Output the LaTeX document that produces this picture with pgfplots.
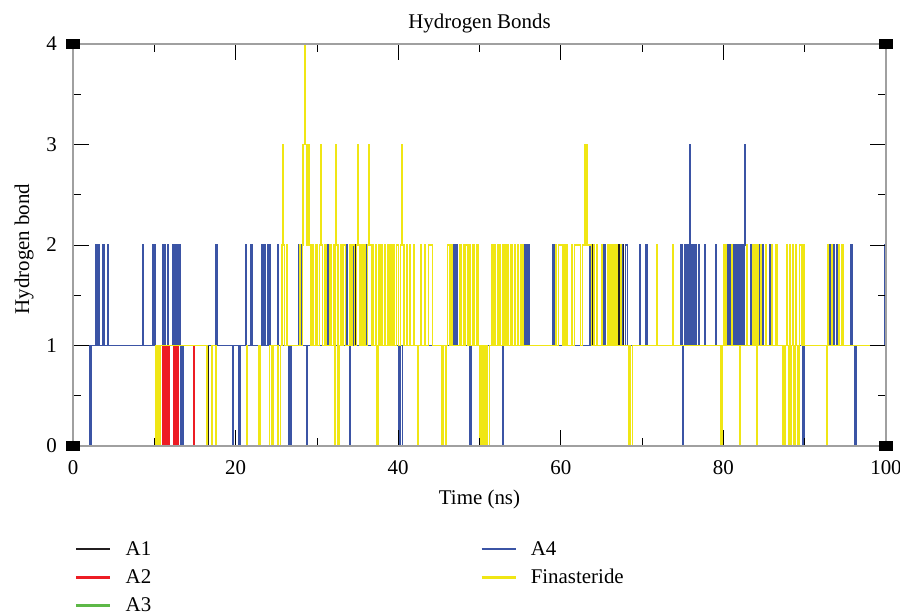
\documentclass[border=0pt]{standalone}
\usepackage{pgfplots}
\pgfplotsset{compat=1.18}
\usepackage{fontspec}
\setmainfont{Liberation Serif}
\definecolor{cA1}{RGB}{35,31,32}
\definecolor{cA2}{RGB}{237,28,36}
\definecolor{cA3}{RGB}{93,184,71}
\definecolor{cA4}{RGB}{59,84,165}
\definecolor{cFin}{RGB}{240,230,20}
\definecolor{frame}{RGB}{160,160,160}
\begin{document}
\begin{tikzpicture}
\useasboundingbox (-73bp,-170bp) rectangle (827bp,446bp);
\begin{axis}[
  at={(0,0)}, anchor=south west,
  scale only axis, width=813bp, height=402bp,
  xmin=0, xmax=100, ymin=0, ymax=4,
  xtick={0,20,...,100}, ytick={0,1,2,3,4},
  minor x tick num=1, minor y tick num=1,
  tick align=inside, xtick pos=both, ytick pos=both,
  major tick length=16bp, minor tick length=8bp,
  every tick/.style={black, line width=0.8bp},
  axis line style={draw=frame, line width=2bp},
  axis on top,
  font=\fontsize{21}{25}\selectfont,
  /pgf/number format/assume math mode=true,
  xticklabel style={anchor=center, yshift=-22bp, inner sep=0pt},
  yticklabel style={anchor=east, inner sep=0pt, xshift=-16bp},
  title={Hydrogen Bonds},
  title style={at={(axis description cs:0.5,1.0373)}, anchor=center, inner sep=0pt},
  xlabel={Time (ns)},
  xlabel style={at={(axis description cs:0.5,-0.132)}, anchor=center, inner sep=0pt},
  ylabel={Hydrogen bond},
  ylabel style={at={(axis description cs:-0.0600,0.49)}, anchor=center, inner sep=0pt},
  const plot,
  every axis plot/.append style={line width=1.3bp},
  legend image code/.code={\draw[#1, line width=2.5bp] (0bp,0bp) -- (34bp,0bp);},
  transpose legend, legend columns=3,
  legend cell align=left,
  legend style={at={(axis description cs:0.0025,-0.232)}, anchor=north west,
    draw=none, fill=none, inner sep=0pt, row sep=8.5bp,
    /tikz/every odd column/.append style={column sep=12bp},
    /tikz/every even column/.append style={column sep=327bp}},
  after end axis/.code={
    \fill[black] (rel axis cs:0,0) ++(-7bp,-5bp) rectangle ++(14bp,10bp);
    \fill[black] (rel axis cs:0,1) ++(-7bp,-5bp) rectangle ++(14bp,10bp);
    \fill[black] (rel axis cs:1,0) ++(-7bp,-5bp) rectangle ++(14bp,10bp);
    \fill[black] (rel axis cs:1,1) ++(-7bp,-5bp) rectangle ++(14bp,10bp);
  },
]
% A1
\addplot[cA1] coordinates {(0,1) (16.6,0) (16.7,1) (34.6,2) (34.7,1) (63.8,2) (63.9,1) (67.1,2) (67.2,1) (67.6,2) (67.7,1) (100,1)};
% A2
\addplot[cA2] coordinates {(0,1) (11.0,0) (11.1,1) (11.2,0) (11.3,1) (11.4,0) (11.5,1) (11.6,0) (11.7,1) (11.8,0) (11.9,1) (12.4,0) (12.5,1) (12.6,0) (12.7,1) (12.8,0) (12.9,1) (14.8,0) (14.88,1) (100,1)};
% A3 (hidden beneath)
\addplot[cA3] coordinates {(0,1) (100,1)};
% A4
\addplot[cA4] coordinates {(0,1) (2.1,0) (2.25,1)
 (2.8,2) (2.9,1) (3.0,2) (3.1,1) (3.2,2) (3.3,1) (3.7,2) (3.8,1) (4.3,2) (4.4,1)
 (8.6,2) (8.7,1) (9.8,2) (9.9,1) (10.0,2) (10.1,1)
 (11.0,2) (11.1,1) (11.3,2) (11.4,1) (11.6,2) (11.7,1)
 (12.3,2) (12.4,1) (12.5,2) (12.6,1) (12.7,2) (12.8,1) (12.9,2) (13.0,1) (13.1,2) (13.15,1)
 (13.25,0) (13.35,1) (13.5,0) (13.6,1)
 (17.5,2) (17.7,1) (19.6,0) (19.7,1) (20.4,0) (20.55,1)
 (21.2,2) (21.3,1) (21.8,2) (21.9,1) (22.0,2) (22.1,1)
 (23.2,2) (23.3,1) (23.5,2) (23.6,1) (23.9,2) (24.0,1) (24.2,2) (24.3,1)
 (25.2,2) (25.3,1) (26.5,0) (26.6,1) (26.8,0) (26.9,1)
 (27.7,2) (27.9,1) (28.1,2) (28.2,1) (28.7,0) (28.85,1)
 (31.0,2) (31.1,1) (31.3,2) (31.4,1)
 (33.6,2) (33.8,1) (34.0,0) (34.1,1) (34.5,2) (34.6,1) (35.9,2) (36.1,1)
 (40.0,0) (40.1,1) (40.3,0) (40.5,1)
 (46.8,2) (47.0,1) (47.1,2) (47.3,1)
 (48.8,0) (48.95,1) (52.8,0) (52.95,1)
 (55.6,2) (55.8,1) (55.9,2) (56.1,1) (59.0,2) (59.15,1) (63.5,2) (63.65,1)
 (65.3,2) (65.45,1) (66.9,2) (67.0,1) (67.5,2) (67.6,1) (68.0,2) (68.2,1)
 (69.7,2) (69.8,1) (70.4,2) (70.6,1)
 (74.8,2) (74.9,1) (75.0,0) (75.1,1) (75.2,2) (75.3,1) (75.4,2) (75.5,1) (75.6,2) (75.7,1)
 (75.8,3) (75.95,2) (76.0,1) (76.1,2) (76.2,1) (76.3,2) (76.4,1) (76.6,2) (76.7,1)
 (77.0,2) (77.1,1) (77.7,2) (77.8,1) (79.0,2) (79.1,1)
 (80.4,2) (80.5,1) (80.6,2) (80.7,1) (80.8,2) (80.9,1) (81.0,2) (81.1,1) (81.2,2) (81.3,1)
 (81.4,2) (81.5,1) (81.6,2) (81.7,1) (81.8,2) (81.9,1) (82.0,2) (82.1,1) (82.2,2) (82.3,1)
 (82.4,2) (82.5,1) (82.6,3) (82.7,2) (82.8,1)
 (83.3,2) (83.5,1) (84.5,2) (84.6,1) (84.8,2) (84.9,1) (85.7,2) (85.8,1)
 (89.75,0) (89.9,1) (93.1,2) (93.2,1) (93.5,2) (93.6,1) (93.9,2) (94.0,1)
 (95.6,2) (95.8,1) (96.2,0) (96.3,1) (99.85,2) (100,2)};
% Finasteride
\addplot[cFin] coordinates {(0,0)
 (10.2,1) (10.35,0) (10.5,1) (10.65,0) (10.8,1)
 (16.5,0) (17.1,1) (17.6,0) (21.4,1) (21.5,0) (22.8,1) (23.0,0) (24.2,1) (24.4,0) (24.6,1) (25.2,0) (25.5,1)
 (25.7,2) (25.75,3) (25.85,2) (26.0,1) (26.3,2) (26.4,1) (27.9,2) (28.0,1) (28.2,2) (28.3,3) (28.5,4) (28.6,3)
 (28.8,2) (28.9,3) (29.1,2) (29.2,1) (29.4,2) (29.6,1) (29.9,2) (30.0,1) (30.3,2) (30.4,3) (30.5,2) (30.7,1)
 (31.0,2) (31.2,1) (31.6,2) (31.8,1) (32.0,2) (32.2,0) (32.3,3) (32.4,2) (32.6,0) (32.7,1) (32.9,2) (33.1,1)
 (33.3,2) (33.5,1) (34.0,2) (34.2,1) (34.4,2) (34.6,1) (34.9,2) (35.0,3) (35.1,2) (35.3,1) (35.5,2) (35.6,1)
 (35.8,2) (35.9,1) (36.2,2) (36.4,3) (36.5,2) (36.7,1) (36.9,2) (37.0,1) (37.2,2) (37.3,1) (37.4,0) (37.5,1)
 (37.6,2) (37.7,1) (37.9,2) (38.0,1) (38.3,2) (38.4,1) (38.7,2) (38.8,1) (39.0,2) (39.1,1) (39.3,2) (39.5,1)
 (39.8,2) (40.0,1) (40.3,2) (40.4,3) (40.5,2) (40.7,1) (41.0,2) (41.1,1) (41.4,2) (41.5,1) (41.9,2) (42.0,1)
 (42.4,0) (42.5,1) (42.8,2) (42.9,1) (43.3,2) (43.4,1) (43.7,2) (44.2,1)
 (45.4,0) (45.5,1) (45.8,0) (45.9,1)
 (46.1,2) (46.3,1) (46.5,2) (46.6,1) (47.6,2) (47.8,1) (48.0,2) (48.1,1) (48.3,2) (48.5,1) (48.7,2) (48.9,1)
 (49.2,2) (49.4,1) (49.6,2) (49.8,1) (50.0,0) (50.1,1) (50.2,0) (50.3,1) (50.4,0) (50.5,1) (50.6,0) (50.7,1)
 (50.8,0) (50.9,1) (51.0,0) (51.2,1)
 (51.5,2) (51.6,1) (51.8,2) (52.0,1) (52.2,2) (52.3,1) (52.5,2) (52.6,1) (52.9,2) (53.0,1) (53.2,2) (53.3,1)
 (53.5,2) (53.6,1) (53.8,2) (53.9,1) (54.0,2) (54.1,1) (54.3,2) (54.4,1) (54.7,2) (54.8,1) (55.0,2) (55.1,1)
 (55.3,2) (55.4,1)
 (59.4,2) (59.5,1) (59.7,2) (60.2,1) (60.4,2) (60.5,1) (60.7,2) (60.8,1) (61.3,2) (61.4,1) (61.7,2) (62.4,1)
 (62.7,2) (62.9,3) (63.0,2) (63.2,3) (63.25,2) (63.8,1) (64.0,2) (64.1,1) (64.4,2) (64.5,1) (65.0,2) (65.1,1)
 (65.8,2) (65.9,1) (66.0,2) (66.1,1) (66.2,2) (66.3,1) (66.4,2) (66.5,1) (66.6,2) (66.7,1) (66.8,2) (66.9,1)
 (67.3,2) (67.4,1) (68.3,0) (68.5,1) (68.6,0) (68.8,1)
 (71.8,2) (71.9,1) (73.7,2) (73.8,1) (79.6,0) (79.7,1) (79.8,0) (79.9,1)
 (80.0,2) (80.1,1) (80.3,2) (80.4,1) (81.0,2) (81.1,1) (82.0,0) (82.1,1) (82.9,2) (83.0,1) (83.6,2) (83.7,1)
 (83.8,2) (83.9,1) (84.0,2) (84.05,0) (84.15,1) (84.2,2) (84.3,1) (84.6,2) (84.7,1) (85.2,2) (85.3,1)
 (85.9,2) (86.0,1) (86.4,2) (86.6,1) (87.3,0) (87.4,1) (87.5,0) (87.6,1) (87.8,2) (87.9,1) (88.0,0) (88.1,2)
 (88.2,1) (88.3,0) (88.4,1) (88.5,2) (88.6,1) (88.7,0) (88.8,1) (88.9,2) (89.0,1) (89.1,0) (89.2,1) (89.3,0)
 (89.4,2) (89.6,1) (89.8,2) (89.9,1) (92.7,0) (92.8,2) (92.9,1) (93.3,2) (93.4,1) (94.2,2) (94.3,1)
 (94.6,2) (94.7,1) (100,1)};
\legend{A1,A2,A3,A4,Finasteride}
\end{axis}
\end{tikzpicture}
\end{document}
